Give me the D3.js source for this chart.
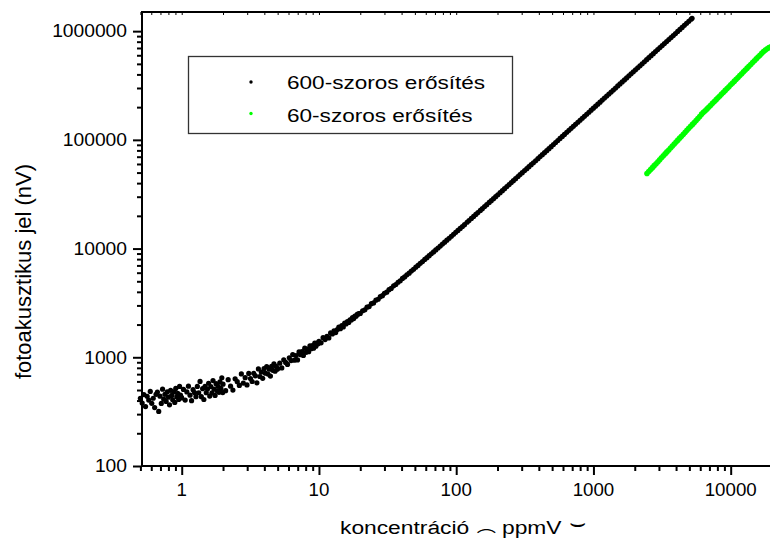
<!DOCTYPE html>
<html><head><meta charset="utf-8">
<script src="https://cdn.jsdelivr.net/npm/d3@7"></script>
<style>
body{margin:0;background:#fff}
svg{display:block}
text{font-family:"Liberation Sans",Arial,Helvetica,sans-serif;fill:#000}
</style>
</head><body>
<svg id="chart" width="770" height="548"></svg>
<script>
// ---------- data ----------
const xTickValues = [1, 10, 100, 1000, 10000];
const yTickValues = [100, 1000, 10000, 100000, 1000000];
const seriesNames = ["600-szoros erősítés", "60-szoros erősítés"];
const seriesColors = ["#000000", "#00ff00"];
const xTitle = ["koncentráció", "⌒", "ppmV", "⌣"];
const yTitle = "fotoakusztikus jel (nV)";

// 600-szoros erősítés (ppmV, nV)
const blackX = [
0.5,0.515,0.53,0.545,0.56,0.575,0.59,0.605,0.62,0.635,0.65,0.665,0.68,0.695,0.71,0.725,0.74,0.755,0.77,0.785,0.8,0.815,0.83,0.845,0.86,0.875,0.89,0.905,0.92,0.935,0.95,0.965,0.98,0.995,
1.00,1.03,1.06,1.09,1.12,1.15,1.18,1.21,1.24,1.27,1.30,1.33,1.36,1.39,1.42,1.45,1.48,1.51,1.54,1.57,1.60,1.63,1.66,1.69,1.72,1.75,1.78,1.81,1.84,1.87,1.90,1.93,1.96,1.99,
2.00,2.09,2.18,2.27,2.36,2.45,2.54,2.63,2.72,2.81,2.90,2.99,3.08,3.17,3.26,3.35,3.44,3.53,3.62,3.71,3.80,3.89,3.98,4.07,4.16,4.25,4.34,4.43,4.52,4.61,4.70,4.79,4.88,4.97,
5.00,5.18,5.36,5.54,5.72,5.90,6.08,6.26,6.44,6.62,6.80,6.98,7.16,7.34,7.52,7.70,7.88,8.06,8.24,8.42,8.60,8.78,8.96,9.14,9.32,9.50,9.68,9.86,
10.00,10.36,10.72,11.08,11.44,11.80,12.16,12.52,12.88,13.24,13.60,13.96,14.32,14.68,15.04,15.40,15.76,16.12,16.48,16.84,17.20,17.56,17.92,18.28,18.64,19.00,19.36,19.72,
20,20.8,21.6,22.4,23.2,24.1,25,26,27,28,29,30,31.2,32.4,33.6,35,36.3,37.7,39.1,40.6,42.1,43.7,45.4,47.1,48.9,50.8,52.7,54.7,56.8,59,61.2,63.5,65.9,68.4,
71,73.7,76.5,79.4,82.4,85.5,88.8,92.2,95.7,99.3,103,107,111,115,120,124,129,134,139,144,150,155,161,167,174,180,187,194,201,209,217,225,234,243,252,261,271,282,292,303,315,327,339,352,365,379,394,409,424,440,457,474,492,511,530,550,571,593,615,639,663,688,714,741,770,799,829,860,893,927,962,999,
1037,1076,1117,1159,1203,1249,1296,1345,1396,1449,1504,1561,1620,1682,1745,1812,1880,1952,2026,2103,2183,2265,2351,2441,2533,2629,2729,2833,2940,3052,3168,3288,3413,3542,3677,3816,3961,4111,4267,4429,4597,4772,4953,5141,5230
];
const blackY = [
419,379,454,352,437,404,485,377,420,345,456,479,318,439,376,509,412,456,393,481,430,365,497,446,407,480,384,517,434,466,409,540,448,427,
422,506,404,480,542,448,399,504,474,434,540,472,600,434,514,409,539,472,510,577,440,538,470,610,510,446,572,492,541,476,593,517,648,474,
566,493,623,542,499,634,596,551,703,579,649,557,710,637,599,713,675,582,781,666,731,641,785,714,819,701,778,672,827,759,870,744,825,777,
789,882,799,947,896,860,989,933,1058,941,1039,946,1120,1055,1129,1039,1214,1110,1187,1124,1275,1199,1280,1212,1347,1264,1349,1331,
1401,1359,1515,1455,1558,1506,1676,1638,1749,1689,1802,1900,1834,1953,1900,2063,2027,2134,2094,2204,2205,2318,2272,2388,2386,2482,2503,2525,
2530,2680,2730,2890,2930,3110,3160,3350,3420,3610,3690,3880,3970,4190,4300,4540,4670,4900,5060,5310,5480,5740,5940,6220,6450,6750,7000,7310,7600,7940,8250,8600,8950,9320,
9720,10120,10550,11000,11460,11940,12450,12980,13540,14120,14700,15330,15960,16600,17460,18100,18930,19760,20590,21430,22450,23290,24320,25350,26550,27600,28800,30040,31270,32690,34120,35550,37170,38820,40470,42140,43980,46010,47890,49920,52140,54370,56620,59090,61550,64240,67120,70160,73100,76190,79580,82950,86530,90670,94560,98670,103050,107650,112190,117190,122310,127660,133110,138950,145220,151550,157970,164640,171930,179480,187390,195780,
204300,213100,222300,232100,242300,252900,263700,275200,287100,299700,313200,326900,341100,356100,371500,388000,404800,422400,440800,460100,480200,500900,522800,545900,569800,594800,621000,648300,676600,706000,737000,768800,802100,836700,873300,910900,950600,994000,1037700,1082900,1130400,1180100,1231800,1285800,1311200
];

// 60-szoros erősítés (ppmV, nV)
const greenX = [
2455,2530,2610,2690,2770,2860,2950,3040,3130,3230,3330,3430,3540,3650,3760,3880,4000,4120,4250,4380,4520,4660,4800,4950,5110,5270,5430,5600,5770,5950,
6140,6330,6520,6730,6940,7150,7370,7600,7840,8080,8330,8590,8860,9130,9420,9710,10010,10320,10640,10970,11310,11660,12030,12400,12780,13180,13590,14010,14450,14900,
15360,15840,16330,16840,17360,17900,18460,19030,19620,20230
];
const greenY = [
49000,51080,53250,55520,57880,60340,62900,65580,68360,71270,74300,77460,80750,84180,87760,91490,95380,99430,103660,108060,112660,117450,122440,127640,133070,138720,144620,150770,157170,163850,
172300,179500,185200,192610,200310,208330,216660,225330,234340,243710,253460,263600,274140,285110,296520,308380,320710,333540,346880,360760,375190,390200,405810,422040,438920,456480,474740,493730,513480,534020,
555380,577590,600700,624730,649720,670000,688000,705000,720000,735000
];

// ---------- chart ----------
const W = 770, H = 548;
const plotL = 142, plotT = 12, plotB = 466, plotR = 770;
const svg = d3.select("#chart");
svg.append("rect").attr("width", W).attr("height", H).attr("fill", "#fff");

const x = d3.scaleLog().domain([0.5, 20000]).range([140.4, 772]);
const y = d3.scaleLog().domain([100, 1.5e6]).range([plotB, plotT]);

function decadeTicks(domain) {
  const out = [];
  const lo = Math.floor(Math.log10(domain[0])), hi = Math.ceil(Math.log10(domain[1]));
  for (let e = lo; e <= hi; e++) for (let m = 1; m <= 9; m++) {
    const v = +(m * Math.pow(10, e)).toPrecision(6);
    if (v >= domain[0] * 0.9999 && v <= domain[1] * 1.0001) out.push(v);
  }
  return out;
}
const xAll = decadeTicks(x.domain()).filter(v => x(v) <= plotR);
const yAll = decadeTicks(y.domain());
const xMinor = xAll.filter(v => !xTickValues.includes(v));
const yMinor = yAll.filter(v => !yTickValues.includes(v));

function styleTicks(g, w) {
  g.select(".domain").remove();
  g.selectAll(".tick line").attr("stroke", "#000").attr("stroke-width", w);
  g.selectAll(".tick text").remove();
}

// bottom axis
svg.append("g").attr("transform", `translate(0,${plotB})`)
  .call(d3.axisBottom(x).tickValues(xMinor).tickSize(5).tickSizeOuter(0))
  .call(g => styleTicks(g, 2));
svg.append("g").attr("transform", `translate(0,${plotB})`)
  .call(d3.axisBottom(x).tickValues(xTickValues).tickSize(9).tickSizeOuter(0))
  .call(g => styleTicks(g, 2));
// left axis
svg.append("g").attr("transform", `translate(${plotL},0)`)
  .call(d3.axisLeft(y).tickValues(yMinor).tickSize(5).tickSizeOuter(0))
  .call(g => styleTicks(g, 2));
svg.append("g").attr("transform", `translate(${plotL},0)`)
  .call(d3.axisLeft(y).tickValues(yTickValues).tickSize(9).tickSizeOuter(0))
  .call(g => styleTicks(g, 2));
// top axis (inward ticks)
svg.append("g").attr("transform", `translate(0,${plotT})`)
  .call(d3.axisTop(x).tickValues(xAll).tickSize(-3).tickSizeOuter(0))
  .call(g => styleTicks(g, 1));

// axis lines
svg.append("line").attr("x1", plotL - 1).attr("x2", plotR).attr("y1", plotB).attr("y2", plotB)
  .attr("stroke", "#000").attr("stroke-width", 2);
svg.append("line").attr("x1", plotL - 1).attr("x2", plotR).attr("y1", plotT).attr("y2", plotT)
  .attr("stroke", "#000").attr("stroke-width", 2);
svg.append("line").attr("x1", plotL).attr("x2", plotL).attr("y1", plotT - 1).attr("y2", plotB + 1)
  .attr("stroke", "#000").attr("stroke-width", 2);

// tick labels
svg.append("g").selectAll("text").data(yTickValues).join("text")
  .attr("transform", d => `translate(127,${y(d)}) scale(1.1,1)`)
  .attr("text-anchor", "end").attr("dy", "0.36em")
  .style("font-size", "17.5px").text(d => String(d));
svg.append("g").selectAll("text").data(xTickValues).join("text")
  .attr("transform", d => `translate(${x(d)},496) scale(1.07,1)`)
  .attr("text-anchor", "middle")
  .style("font-size", "17.5px").text(d => String(d));

// points
const black = blackX.map((v, i) => [v, blackY[i]]);
const green = greenX.map((v, i) => [v, greenY[i]]);
svg.append("g").selectAll("circle").data(black).join("circle")
  .attr("cx", d => x(d[0])).attr("cy", d => y(d[1])).attr("r", 2.6).attr("fill", seriesColors[0]);
svg.append("g").selectAll("circle").data(green).join("circle")
  .attr("cx", d => x(d[0])).attr("cy", d => y(d[1])).attr("r", 2.8).attr("fill", seriesColors[1]);

// legend
const lg = svg.append("g");
lg.append("rect").attr("x", 188.5).attr("y", 56.5).attr("width", 324).attr("height", 77)
  .attr("fill", "#fff").attr("stroke", "#333").attr("stroke-width", 1.3);
const legY = [82, 113.5], legBase = [89.3, 121.7];
seriesNames.forEach((n, i) => {
  lg.append("circle").attr("cx", 251).attr("cy", legY[i]).attr("r", 1.7).attr("fill", seriesColors[i]);
  lg.append("text").attr("transform", `translate(287,${legBase[i]}) scale(1.22,1)`)
    .style("font-size", "18.5px").text(n);
});

// axis titles
const xt = svg.append("text").attr("transform", "translate(340,534) scale(1.2,1)").style("font-size", "19px");
xt.append("tspan").attr("x", 0).text(xTitle[0] + " ");
xt.append("tspan").attr("x", 114).attr("dy", 9).style("font-size", "16px")
  .style("font-family", "'Noto Sans CJK JP','DejaVu Sans'").text(xTitle[1]);
xt.append("tspan").attr("x", 135).attr("dy", -9).text(xTitle[2]);
xt.append("tspan").attr("x", 191).attr("dy", -3).style("font-size", "22px")
  .style("font-family", "'DejaVu Sans','Noto Sans CJK JP'").text(xTitle[3]);

svg.append("text").attr("transform", "translate(31,271.5) rotate(-90)")
  .attr("text-anchor", "middle").style("font-size", "22px").text(yTitle);
</script>
</body></html>
